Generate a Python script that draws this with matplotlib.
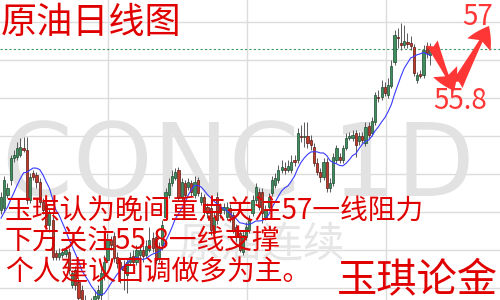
import numpy as np
import pandas as pd
import matplotlib
matplotlib.use("Agg")
import matplotlib.pyplot as plt
from matplotlib.transforms import Affine2D

plt.rcParams['font.family'] = ['Noto Sans CJK SC', 'DejaVu Sans']

# ---- data (daily OHLC, crude oil continuous) ----
opens = [
    46.88, 47.00, 47.81, 48.75, 50.13, 50.19, 50.31, 50.75, 50.63, 47.50,
    49.19, 49.06, 48.63, 47.38, 47.19, 45.94, 46.25, 44.19, 43.94, 44.06,
    44.13, 44.25, 42.19, 43.13, 42.38, 41.88, 41.25, 40.63, 40.88, 41.25,
    41.38, 41.56, 42.81, 43.75, 45.00, 45.25, 43.94, 43.63, 43.38, 42.81,
    43.63, 44.00, 43.63, 44.06, 44.38, 44.06, 44.38, 45.13, 45.19, 43.88,
    44.69, 46.44, 47.81, 48.56, 48.88, 49.38, 47.69, 48.56, 48.31, 48.56,
    47.81, 48.75, 47.38, 47.69, 47.06, 47.00, 45.44, 47.69, 47.06, 46.88,
    46.44, 47.00, 46.56, 45.81, 45.44, 44.25, 45.19, 45.63, 46.69, 47.50,
    48.00, 48.00, 46.44, 47.06, 47.94, 48.44, 48.75, 49.38, 49.50, 49.38,
    49.38, 50.00, 50.00, 51.50, 51.44, 51.50, 51.25, 50.81, 49.81, 49.25,
    48.94, 49.88, 48.25, 48.56, 50.00, 50.19, 50.00, 50.75, 51.38, 51.38,
    51.69, 51.19, 51.50, 51.06, 52.13, 51.69, 52.38, 53.94, 53.94, 54.56,
    54.06, 54.63, 56.13, 57.69, 57.31, 57.19, 57.38, 57.31, 57.06, 55.00,
    55.38, 55.31, 57.13, 56.56]
highs = [
    48.00, 49.00, 48.56, 50.31, 50.63, 51.13, 51.38, 51.44, 51.44, 49.19,
    49.38, 49.25, 48.88, 47.63, 47.50, 47.00, 46.75, 44.38, 44.50, 44.50,
    44.63, 44.50, 43.13, 43.38, 42.63, 42.19, 41.56, 41.25, 41.38, 41.88,
    42.19, 43.25, 44.06, 45.44, 45.25, 45.50, 44.25, 43.88, 43.75, 43.88,
    44.25, 44.38, 44.69, 44.75, 44.69, 45.00, 45.81, 45.50, 45.50, 44.88,
    46.25, 48.25, 48.88, 49.38, 49.50, 49.56, 48.88, 48.75, 48.88, 48.75,
    49.00, 48.94, 48.00, 47.88, 47.31, 47.19, 46.75, 48.00, 47.31, 47.31,
    47.38, 47.25, 46.75, 46.00, 45.63, 45.63, 46.13, 46.56, 47.81, 48.56,
    48.25, 48.25, 47.19, 47.94, 49.00, 49.19, 49.69, 50.00, 49.88, 50.00,
    50.31, 50.31, 52.00, 52.19, 52.38, 52.38, 51.56, 51.06, 50.13, 49.50,
    50.13, 50.13, 48.88, 50.44, 50.94, 50.44, 50.94, 51.69, 51.75, 51.88,
    51.88, 51.75, 51.75, 52.38, 52.38, 52.69, 54.25, 54.38, 55.00, 54.88,
    55.13, 56.25, 58.13, 58.25, 58.56, 58.44, 57.94, 57.75, 57.25, 55.50,
    55.63, 57.19, 57.38, 57.31]
lows = [
    46.63, 46.75, 47.63, 48.44, 49.88, 50.00, 50.19, 50.50, 47.25, 47.31,
    48.75, 48.25, 47.19, 46.63, 45.75, 45.50, 43.75, 43.75, 43.75, 43.88,
    43.94, 42.88, 42.00, 41.88, 41.06, 40.63, 40.13, 40.00, 40.25, 40.94,
    41.13, 41.25, 42.50, 43.63, 44.38, 43.63, 43.25, 42.31, 41.88, 41.69,
    43.44, 43.25, 43.44, 43.63, 43.63, 43.88, 44.25, 44.25, 43.50, 43.63,
    44.38, 46.25, 47.63, 48.38, 48.75, 47.50, 47.50, 47.63, 48.13, 47.75,
    47.63, 47.75, 47.19, 46.56, 46.38, 45.31, 45.19, 46.00, 46.38, 46.63,
    46.25, 46.13, 45.44, 44.88, 44.25, 44.06, 45.00, 45.44, 46.50, 47.31,
    46.88, 46.06, 46.25, 46.88, 47.75, 48.25, 48.56, 49.19, 49.13, 49.25,
    49.19, 49.63, 49.81, 51.13, 50.81, 50.75, 50.63, 49.63, 49.06, 48.63,
    48.75, 48.00, 48.00, 48.38, 49.81, 49.81, 49.81, 50.63, 51.25, 51.19,
    50.19, 50.94, 51.06, 50.88, 51.38, 51.50, 52.19, 53.63, 53.75, 54.00,
    53.88, 54.50, 55.94, 57.00, 56.88, 57.00, 57.00, 56.88, 55.25, 54.81,
    55.13, 55.13, 56.38, 55.94]
closes = [
    47.69, 48.75, 48.25, 50.13, 50.31, 50.75, 50.81, 50.63, 47.50, 48.94,
    48.94, 48.63, 47.38, 46.88, 45.94, 46.75, 43.94, 43.94, 44.19, 44.25,
    44.38, 43.13, 42.94, 42.19, 41.38, 40.94, 40.50, 40.88, 40.63, 41.50,
    41.88, 42.94, 43.63, 45.00, 44.69, 43.88, 43.56, 43.25, 43.13, 43.63,
    43.94, 43.63, 44.38, 44.38, 44.00, 44.63, 45.00, 44.50, 43.75, 44.50,
    45.94, 48.00, 48.56, 49.00, 49.25, 47.63, 48.63, 47.81, 48.63, 48.00,
    48.63, 47.94, 47.69, 46.75, 46.69, 45.63, 46.44, 46.25, 46.69, 47.06,
    47.06, 46.44, 45.63, 45.19, 44.38, 45.31, 45.81, 46.25, 47.50, 48.31,
    47.06, 46.69, 46.88, 47.69, 48.75, 48.88, 49.38, 49.56, 49.38, 49.63,
    49.88, 49.88, 51.69, 51.44, 51.50, 51.06, 50.94, 49.81, 49.25, 48.94,
    49.88, 48.25, 48.56, 50.19, 50.75, 50.00, 50.75, 51.38, 51.50, 51.56,
    50.94, 51.50, 51.25, 52.06, 51.56, 52.44, 54.06, 53.88, 54.56, 54.19,
    54.69, 55.88, 57.81, 57.63, 57.19, 57.44, 57.25, 57.13, 55.44, 55.31,
    55.25, 56.88, 56.69, 56.94]
# closes before the visible window (estimated), only used for the moving average
prior_closes = [45.00, 45.13, 45.50, 45.88, 46.13, 46.63, 47.00, 47.19, 47.50]
ma_window = 10

title_text = "原油日线图"
note_lines = ["玉琪认为晚间重点关注57一线阻力",
              "下方关注55.8一线支撑",
              "个人建议回调做多为主。"]
brand_text = "玉琪论金"
target_up = "57"
target_down = "55.8"
watermark_main = "CONC 1D"
watermark_sub = "原油连续"

# ---- figure ----
W, H = 500, 300
fig = plt.figure(figsize=(W / 100, H / 100), dpi=100)
fig.patch.set_facecolor("white")
ax = fig.add_axes([0, 0, 1, 1])
ax.set_facecolor("white")

o = np.array(opens); h = np.array(highs); l = np.array(lows); c = np.array(closes)
idx = np.arange(len(c))
up = c >= o

# pixel transform for overlay text / arrows
T = Affine2D().scale(1 / W, -1 / H).translate(0, 1) + fig.transFigure

# grid
ax.set_xlim(-0.31, 154.7)
ax.set_ylim(41.25, 60.0)
ax.set_yticks(42 + 2.375 * np.arange(8))
ax.set_xticks([33.2, 76.3, 119.4])
ax.grid(True, color="#dcdcdc", lw=1.0)
ax.set_axisbelow(True)
ax.tick_params(length=0, labelleft=False, labelbottom=False)
for s in ax.spines.values():
    s.set_visible(False)

# watermarks
ax.text(2, 196, watermark_main, transform=T, fontsize=73, color="#e2e2e2",
        family="DejaVu Sans", ha="left", va="baseline", zorder=0.6)
ax.text(262, 245, watermark_sub, transform=T, fontsize=30, color="#e6e6e6",
        ha="center", va="center", zorder=0.6)

# current price dashed line
ax.axhline(c[-1], color="#3a9a68", lw=0.8, ls=(0, (2, 2)), zorder=1.5)

# candles
ax.vlines(idx, l, h, color="#5a5a5a", lw=0.7, zorder=2)
bottom = np.minimum(o, c)
height = np.maximum(np.abs(c - o), 0.06)
ax.bar(idx[up], height[up], bottom=bottom[up], width=0.68,
       color="#3f8f5e", edgecolor="#1d4a30", lw=0.5, zorder=3)
ax.bar(idx[~up], height[~up], bottom=bottom[~up], width=0.68,
       color="#c0392b", edgecolor="#5a1810", lw=0.5, zorder=3)

# moving average
allc = pd.Series(prior_closes + closes)
ma = allc.rolling(ma_window).mean().values[len(prior_closes):]
ax.plot(idx, ma, color="#3a3aff", lw=0.8, zorder=4)

# title and notes
red = "#e00000"
ax.text(1, 23, title_text, transform=T, fontsize=26, color=red,
        ha="left", va="center", zorder=6)
ys = [211, 241, 272]
for txt, y in zip(note_lines, ys):
    ax.text(5, y, txt, transform=T, fontsize=20, color=red,
            ha="left", va="center", zorder=6)
ax.text(337, 281, brand_text, transform=T, fontsize=29, color=red,
        ha="left", va="center", zorder=6)

# targets and arrows
ared = "#ff3636"
ax.text(478, 17, target_up, transform=T, fontsize=20, color=ared,
        ha="center", va="center", zorder=6)
ax.text(460, 101, target_down, transform=T, fontsize=20, color=ared,
        ha="center", va="center", zorder=6)
style = "fancy,head_length=0.85,head_width=1.05,tail_width=0.5"
ax.annotate("", xy=(454, 91), xytext=(432, 43), xycoords=T, textcoords=T,
            arrowprops=dict(arrowstyle=style, fc=ared, ec="none",
                            mutation_scale=18, shrinkA=0, shrinkB=0),
            zorder=6)
ax.annotate("", xy=(489, 26), xytext=(457, 85), xycoords=T, textcoords=T,
            arrowprops=dict(arrowstyle=style, fc=ared, ec="none",
                            mutation_scale=18, shrinkA=0, shrinkB=0),
            zorder=6)

fig.savefig("out.png", dpi=100, facecolor=fig.get_facecolor())
